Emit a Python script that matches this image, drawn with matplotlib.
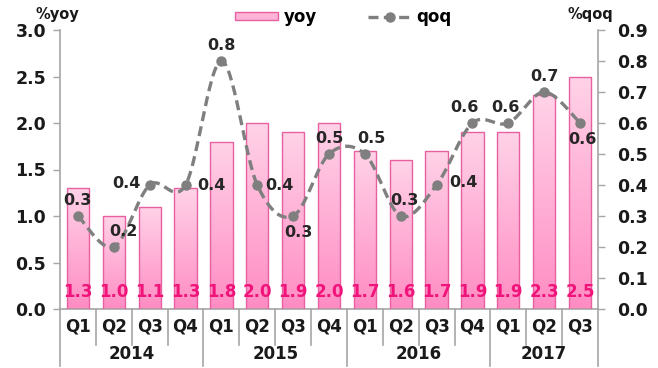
import numpy as np
import matplotlib
matplotlib.use("Agg")
import matplotlib.pyplot as plt
import matplotlib.transforms as mtransforms
from matplotlib.colors import LinearSegmentedColormap
from matplotlib.patches import Rectangle
from matplotlib.lines import Line2D

quarters = ["Q1", "Q2", "Q3", "Q4", "Q1", "Q2", "Q3", "Q4",
            "Q1", "Q2", "Q3", "Q4", "Q1", "Q2", "Q3"]
years = ["2014", "2015", "2016", "2017"]
quarters_per_year = [4, 4, 4, 3]
yoy = [1.3, 1.0, 1.1, 1.3, 1.8, 2.0, 1.9, 2.0, 1.7, 1.6, 1.7, 1.9, 1.9, 2.3, 2.5]
qoq = [0.3, 0.2, 0.4, 0.4, 0.8, 0.4, 0.3, 0.5, 0.5, 0.3, 0.4, 0.6, 0.6, 0.7, 0.6]

# label offsets (points) for the qoq values
qoq_offsets = [(0, 11), (7, 11), (-17, 1), (19, 0), (0, 11), (16, 0), (4, -12),
               (0, 11), (5, 11), (3, 11), (19, 2), (-6, 11), (-2, 11), (0, 11), (2, -12)]

plt.rcParams['font.family'] = ['DejaVu Sans']
plt.rcParams['font.weight'] = 'bold'

fig = plt.figure(figsize=(6.58, 3.68), dpi=100)
ax = fig.add_axes([60 / 658, 59 / 368, 538 / 658, 279 / 368])
ax2 = ax.twinx()

n = len(yoy)
x = np.arange(n)
width = 0.62

pink_grad = LinearSegmentedColormap.from_list("pk", ["#ff8cc3", "#ffd3e8"])
grad = np.linspace(0, 1, 256).reshape(-1, 1)
for xi, v in zip(x, yoy):
    rect = Rectangle((xi - width / 2, 0), width, v, facecolor="none",
                     edgecolor="#e8609f", linewidth=1.0, zorder=3)
    ax.add_patch(rect)
    im = ax.imshow(grad, cmap=pink_grad, origin="lower", aspect="auto",
                   extent=[xi - width / 2, xi + width / 2, 0, v], zorder=2)
    im.set_clip_path(rect)
    ax.text(xi, 0.085, f"{v:.1f}", ha="center", va="bottom", color="#f0147a",
            fontsize=12, fontweight="bold", zorder=5)

ax.set_xlim(-0.5, n - 0.5)
ax.set_ylim(0, 3.0)
ax.set_yticks(np.arange(0, 3.01, 0.5))
ax.set_yticklabels([f"{t:.1f}" for t in np.arange(0, 3.01, 0.5)])
ax2.set_ylim(0, 0.9)
ax2.set_yticks(np.arange(0, 0.91, 0.1))
ax2.set_yticklabels([f"{t:.1f}" for t in np.arange(0, 0.91, 0.1)])

# smoothed qoq line (Catmull-Rom through the points)
pts = np.column_stack([x, qoq]).astype(float)
ext = np.vstack([pts[0], pts, pts[-1]])
curve = []
for i in range(1, len(ext) - 2):
    p0, p1, p2, p3 = ext[i - 1], ext[i], ext[i + 1], ext[i + 2]
    for t in np.linspace(0, 1, 30, endpoint=False):
        t2, t3 = t * t, t * t * t
        curve.append(0.5 * ((2 * p1) + (-p0 + p2) * t +
                            (2 * p0 - 5 * p1 + 4 * p2 - p3) * t2 +
                            (-p0 + 3 * p1 - 3 * p2 + p3) * t3))
curve.append(pts[-1])
curve = np.array(curve)
ax2.plot(curve[:, 0], curve[:, 1], color="#7f7f7f", linestyle=(0, (3, 1.6)),
         linewidth=2.4, zorder=6)
ax2.plot(x, qoq, linestyle="none", marker="o", markersize=6.5, color="#7f7f7f", zorder=7)
for xi, v, off in zip(x, qoq, qoq_offsets):
    ax2.annotate(f"{v:.1f}", (xi, v), xytext=off, textcoords="offset points",
                 ha="center", va="center", fontsize=11.5, fontweight="bold",
                 color="#262626", zorder=8)

for a in (ax, ax2):
    a.spines["top"].set_visible(False)
    for s in ("left", "right", "bottom"):
        a.spines[s].set_color("#a6a6a6")
        a.spines[s].set_linewidth(1.2)
    a.tick_params(axis="y", length=5, width=1, color="#a6a6a6",
                  labelsize=12.5, labelcolor="#1a1a1a", pad=5)
ax2.tick_params(axis="y", pad=9)
ax.set_xticks([])
ax.spines["right"].set_visible(False)
ax2.spines["left"].set_visible(False)
ax2.spines["bottom"].set_visible(False)
ax.set_zorder(ax2.get_zorder() - 1)
ax2.patch.set_visible(False)
for lab in ax.get_yticklabels() + ax2.get_yticklabels():
    lab.set_fontweight("bold")

# category axis: quarter and year rows with separators
trans = mtransforms.blended_transform_factory(ax.transData, ax.transAxes)
bounds = np.concatenate([[0], np.cumsum(quarters_per_year)])
for b in range(n + 1):
    depth = -0.205 if b in bounds else -0.13
    ax.plot([b - 0.5, b - 0.5], [0, depth], color="#a6a6a6", linewidth=1.2,
            transform=trans, clip_on=False)
for xi, q in zip(x, quarters):
    ax.text(xi, -0.062, q, ha="center", va="center", fontsize=12,
            fontweight="bold", color="#1a1a1a", transform=trans)
for i, yr in enumerate(years):
    mid = (bounds[i] + bounds[i + 1] - 1) / 2
    ax.text(mid, -0.163, yr, ha="center", va="center", fontsize=12,
            fontweight="bold", color="#1a1a1a", transform=trans)

fig.text(36 / 658, 1 - 14 / 368, "%yoy", ha="left", va="center", fontsize=10.5,
         fontweight="bold", color="#1a1a1a")
fig.text(568 / 658, 1 - 14 / 368, "%qoq", ha="left", va="center", fontsize=10.5,
         fontweight="bold", color="#1a1a1a")

handles = [Rectangle((0, 0), 1, 1, facecolor="#ffb3d6", edgecolor="#e8609f"),
           Line2D([], [], color="#7f7f7f", linestyle=(0, (3, 1.6)), linewidth=2.4,
                  marker="o", markersize=6.5)]
fig.legend(handles, ["yoy", "qoq"], loc="center left", bbox_to_anchor=(235 / 658, 0.954),
           ncol=2, frameon=False, handlelength=2.6, handleheight=0.45,
           columnspacing=3.1, handletextpad=0.3, borderpad=0, borderaxespad=0,
           prop={"weight": "bold", "size": 12})

fig.savefig("out.png", dpi=100)
